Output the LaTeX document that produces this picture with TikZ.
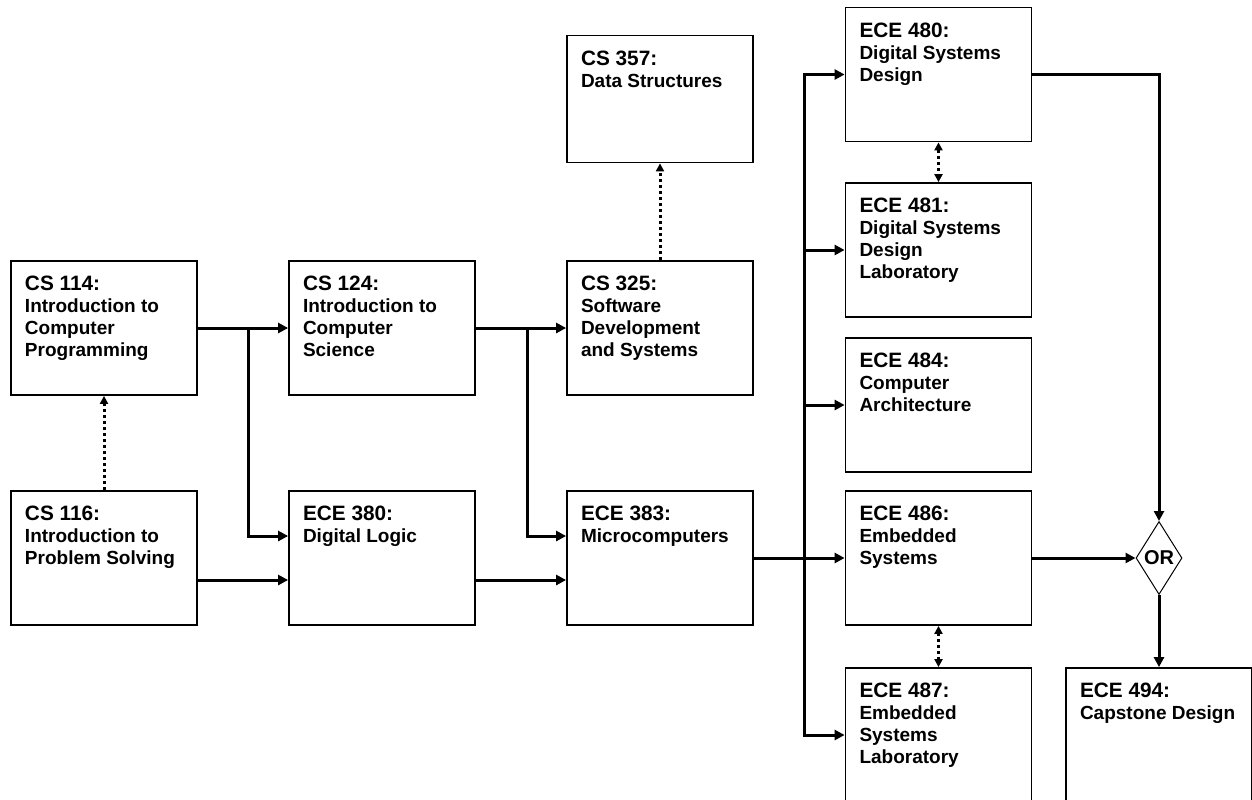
\documentclass[tikz,border=0pt]{standalone}
\usepackage{fontspec}
\setmainfont{Liberation Sans}
\usetikzlibrary{arrows.meta,shapes.geometric}
\newcommand{\crs}[3][52pt]{\parbox[t][#1][t]{79pt}{\fontsize{10.4}{11}\selectfont #2\par\fontsize{9.5}{11}\selectfont #3}}
\tikzset{
  box/.style={draw,line width=0.9pt,minimum width=93pt,minimum height=67pt,inner xsep=7pt,inner ysep=7.5pt,font=\bfseries},
  tbox/.style={box,minimum height=63.5pt},
  orgate/.style={draw,diamond,line width=0.5pt,minimum width=23pt,minimum height=36.5pt,inner sep=0pt,font=\bfseries\fontsize{10}{11}\selectfont},
  ar/.style={-{Triangle[length=5pt,width=5pt]},line width=1.5pt},
  dar/.style={-{Triangle[length=4pt,width=4pt]},line width=1.5pt,dash pattern=on 1.5pt off 1.5pt},
  ddar/.style={dar,{Triangle[length=4pt,width=4pt]}-{Triangle[length=4pt,width=4pt]}},
}
\begin{document}
\begin{tikzpicture}[x=0.5pt,y=-0.5pt]
\useasboundingbox (0,0) rectangle (1252,799);
% ---- first columns ----
\node[box] (cs114) at (104,328) {\crs{CS 114:}{Introduction to\\Computer\\Programming}};
\node[box] (cs116) at (104,558) {\crs{CS 116:}{Introduction to\\Problem Solving}};
\node[box] (cs124) at (382,328) {\crs{CS 124:}{Introduction to\\Computer\\Science}};
\node[box] (ece380) at (382,558) {\crs{ECE 380:}{Digital Logic}};
\node[tbox] (cs357) at (660,99) {\crs[48.5pt]{CS 357:}{Data Structures}};
\node[box] (cs325) at (660,328) {\crs{CS 325:}{Software\\Development\\and Systems}};
\node[box] (ece383) at (660,558) {\crs{ECE 383:}{Microcomputers}};
% ---- senior electives ----
\node[box] (ece480) at (938.5,74.5) {\crs{ECE 480:}{Digital Systems\\Design}};
\node[box] (ece481) at (938.5,250) {\crs{ECE 481:}{Digital Systems\\Design\\Laboratory}};
\node[box] (ece484) at (938.5,405) {\crs{ECE 484:}{Computer\\Architecture}};
\node[box] (ece486) at (938.5,558) {\crs{ECE 486:}{Embedded\\Systems}};
\node[box] (ece487) at (938.5,735) {\crs{ECE 487:}{Embedded\\Systems\\Laboratory}};
\node[orgate] (or) at (1159,558) {OR};
\node[box] (ece494) at (1159,735) {\crs{ECE 494:}{Capstone Design}};
\coordinate (j1) at (248,328);
\coordinate (j2) at (527,328);
\coordinate (bus) at (804,558);
% ---- prerequisites ----
\draw[ar] (cs114) -- (cs124);
\draw[ar] (j1) |- ([yshift=11pt]ece380.west);
\draw[ar] ([yshift=-11pt]cs116.east) -- ([yshift=-11pt]ece380.west);
\draw[dar] (cs116) -- (cs114);
\draw[ar] (cs124) -- (cs325);
\draw[ar] (j2) |- ([yshift=11pt]ece383.west);
\draw[ar] ([yshift=-11pt]ece380.east) -- ([yshift=-11pt]ece383.west);
\draw[dar] (cs325) -- (cs357);
\draw[ar] (ece383) -- (ece486);
\foreach \n in {ece480,ece481,ece484,ece487} \draw[ar] (bus) |- (\n);
\draw[ddar] (ece480) -- (ece481);
\draw[ddar] (ece486) -- (ece487);
% ---- capstone ----
\draw[ar] (ece480) -| (or);
\draw[ar] (ece486) -- (or);
\draw[ar] (or) -- (ece494);
\end{tikzpicture}
\end{document}
